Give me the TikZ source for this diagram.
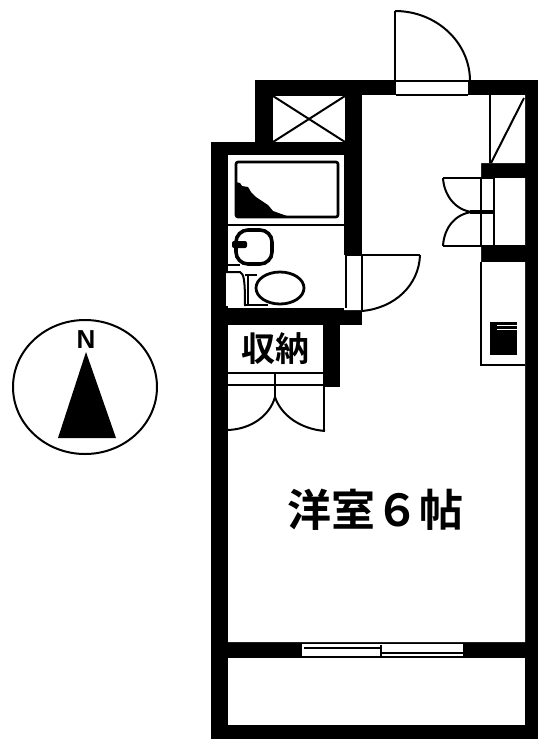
\documentclass[tikz,border=0pt]{standalone}
\usepackage{fontspec}
\newfontfamily\cjk{Noto Sans CJK JP}[BoldFont={Noto Sans CJK JP Bold}]
\setmainfont{Liberation Sans}
\tikzset{
  wall/.style={fill=black,draw=none},
  room/.style={fill=white,draw=none},
  thin line/.style={draw=black,line width=1.2pt},
  med line/.style={draw=black,line width=2pt},
  thick line/.style={draw=black,line width=3.6pt},
}
\begin{document}
\begin{tikzpicture}[x=1pt,y=-1pt]
\useasboundingbox (0,0) rectangle (538,739);
\fill[white] (0,0) rectangle (538,739);
% walls
\path[wall] (211,142)--(255,142)--(255,80)--(538,80)--(538,739)--(211,739)--cycle;
% main room
\path[room] (362,95)--(525,95)--(525,163)--(481,163)--(481,178)--(525,178)--(525,246)--(481,246)--(481,262)--(525,262)--(525,642)--(228,642)--(228,387)--(340,387)--(340,325)--(362,325)--(362,310)--(344,310)--(344,255)--(362,255)--cycle;
% rooms
\path[room] (273,96) rectangle (345,142);
\path[room] (228,155) rectangle (344,308);
\path[room] (228,325) rectangle (323,387);
\path[room] (228,658) rectangle (525,725);
\path[room] (396,80) rectangle (468,95);
\path[room] (302,644) rectangle (463,656);
% duct crosses
\draw[med line] (273,96)--(345,142) (345,96)--(273,142);
\draw[med line] (490,95)--(490,163);
\draw[med line] (524,98)--(491,163);
% entrance door
\draw[thin line] (395,11)--(395,81);
\draw[med line] (395,11) arc[start angle=90,end angle=0,x radius=75pt,y radius=70pt];
\draw[med line] (396,81)--(470,81);
\draw[thin line] (396,95)--(468,95);
% closet double door
\draw[thin line] (443,178)--(494,178) (481,178)--(481,246);
\draw[med line] (443,246)--(525,246);
\draw[thick line,line width=2.6pt] (494,178)--(494,246);
\draw[med line] (443,178) .. controls (444,195) and (455,210) .. (472,212);
\draw[med line] (443,246) .. controls (444,228) and (455,214) .. (472,212);
\draw[thick line] (470,212)--(494,212);
% bath door
\draw[med line] (345.5,255)--(345.5,308);
\draw[thin line] (362,255)--(362,310) (345,255)--(420,255);
\draw[med line] (420,255) .. controls (419,285) and (395,308) .. (362,311);
% kitchen
\draw[med line] (481,262)--(481,365)--(525,365);
\fill[black] (490,322) rectangle (517,355);
\draw[white,line width=1.2pt] (497,325.5)--(517,325.5) (497,329.5)--(517,329.5);
% bath
\draw[thick line,line width=2.6pt,rounded corners=2pt] (236,162) rectangle (338,217);
\fill[black] (236,182)--(240,183)--(242,186)--(248,187)--(251,192)--(256,197)--(262,201)--(268,205)--(273,211)--(287,216)--(236,217)--cycle;
\draw[thin line] (228,225)--(344,225);
% basin
\draw[thick line,rounded corners=12pt] (236,230) rectangle (272,264);
\fill[black,rounded corners=2pt] (232,241) rectangle (247,248);
\draw[thin line] (228,265)--(240,265);
% toilet
\path[room] (226,272) rectangle (244,306);
\draw[med line] (226,272)--(240,272) .. controls (244,274) and (245,280) .. (245,306);
\draw[thin line] (248,276)--(248,305);
\draw[med line] (245,275)--(257,275) (245,305)--(268,305);
\draw[thick line,line width=2.8pt,fill=white] (280,288) ellipse[x radius=24pt,y radius=16pt];
% storage
\draw[med line] (228,373)--(323,373);
\draw[thin line] (228,385)--(323,385);
\draw[med line] (275,373)--(275,397);
\draw[med line] (324,387)--(324,431);
\draw[med line] (228,430) .. controls (252,429) and (270,415) .. (275,397);
\draw[med line] (275,397) .. controls (281,415) and (300,429) .. (325,431);
% window
\draw[med line] (304,648)--(381,648) (380,653)--(463,653);
\draw[thin line] (381,645)--(381,656);
% labels
\node[font=\cjk\bfseries\fontsize{34}{34}\selectfont,inner sep=0pt] (storelabel) at (275,349) {収納};
\node[font=\cjk\bfseries\fontsize{44}{44}\selectfont,inner sep=0pt] (roomlabel) at (375,510) {洋室６帖};
% compass
\draw[med line] (85,387) ellipse[x radius=72pt,y radius=67pt];
\fill[black] (86,352)--(116,438)--(58,438)--cycle;
\node[font=\bfseries\fontsize{26}{26}\selectfont,inner sep=0pt] (north) at (86,340) {N};
\end{tikzpicture}
\end{document}
